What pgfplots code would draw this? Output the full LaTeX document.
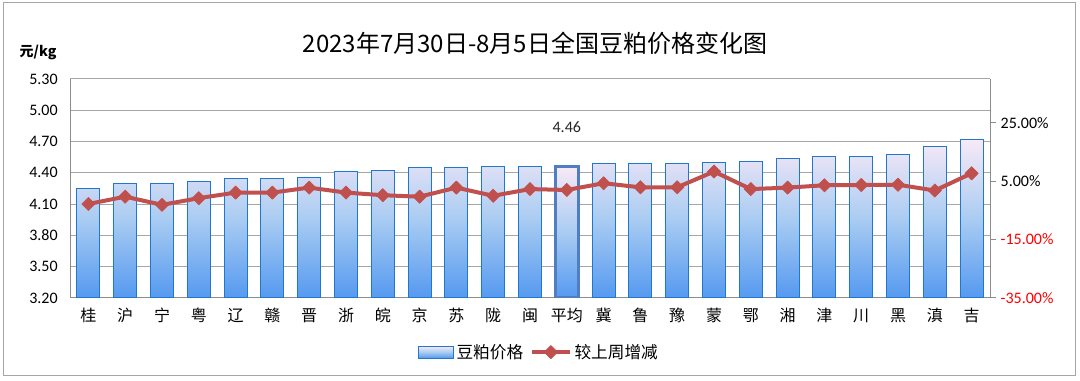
\documentclass[border=0pt]{standalone}
\usepackage{fontspec}
\setmainfont{Carlito}
\newfontfamily\cjk{Noto Sans CJK SC}
\usepackage{pgfplots}
\pgfplotsset{compat=1.18}
\definecolor{barborder}{HTML}{1F78CC}
\definecolor{bartop}{HTML}{F8E9F7}
\definecolor{barmid}{HTML}{A9CCF2}
\definecolor{barbot}{HTML}{5599F0}
\definecolor{linered}{HTML}{C0504D}
\definecolor{gridgray}{HTML}{A6A6A6}
\definecolor{axisgray}{HTML}{8C8C8C}
\definecolor{avgborder}{HTML}{4F7FC0}
\definecolor{negred}{HTML}{FF0000}
\pgfplotsset{linelegend/.style={legend image code/.code={\draw[mark repeat=2,mark phase=2,##1] plot coordinates {(0pt,0pt) (14.25pt,0pt) (28.5pt,0pt)};}}}
\pgfplotsset{barlegend/.style={legend image code/.code={\draw[draw=barborder, line width=0.75pt, top color=bartop, bottom color=barbot, middle color=barmid] (0pt,-4.5pt) rectangle (26.25pt,4.5pt);}}}
\begin{document}
\begin{tikzpicture}
\path[use as bounding box] (0pt,0pt) rectangle (810pt,285.75pt);
\draw[draw=gray!70, line width=0.75pt] (2.25pt,3.75pt) rectangle (806.25pt,283.5pt);
\node[font=\cjk\fontsize{18}{20}\selectfont] at (401.25pt,253.5pt) {2023年7月30日-8月5日全国豆粕价格变化图};
\node[font=\cjk\bfseries\fontsize{10.5}{12}\selectfont] at (28.5pt,246.75pt) {元/kg};
\begin{axis}[
  at={(52.5pt,62.25pt)}, anchor=south west,
  scale only axis, width=690pt, height=164.25pt,
  xmin=-0.5, xmax=24.5, ymin=3.2, ymax=5.3,
  y coord trafo/.code={\pgfmathparse{#1-3.2}},
  y coord inv trafo/.code={\pgfmathparse{#1+3.2}},
  ytick={3.2,3.5,3.8,4.1,4.4,4.7,5.0,5.3},
  yticklabels={3.20,3.50,3.80,4.10,4.40,4.70,5.00,5.30},
  xtick={0,...,24},
  xticklabels={桂,沪,宁,粤,辽,赣,晋,浙,皖,京,苏,陇,闽,平均,冀,鲁,豫,蒙,鄂,湘,津,川,黑,滇,吉},
  xticklabel style={font=\cjk\fontsize{12}{14}\selectfont},
  yticklabel style={font=\fontsize{12}{14}\selectfont, xshift=-5.75pt},
  axis x line*=bottom, axis y line*=left,
  axis line style={-, draw=axisgray, line width=0.75pt},
  ymajorgrids, grid style={draw=gridgray, line width=0.75pt},
  tick style={draw=none},
  ybar, bar width=17.25pt, bar shift=0pt,
]
\addplot[draw=barborder, line width=0.75pt, top color=bartop, bottom color=barbot, middle color=barmid] coordinates {
(0,4.25) (1,4.30) (2,4.30) (3,4.32) (4,4.35) (5,4.35) (6,4.36) (7,4.41) (8,4.42)
(9,4.45) (10,4.45) (11,4.46) (12,4.46) (13,4.46) (14,4.49) (15,4.49) (16,4.49)
(17,4.50) (18,4.51) (19,4.54) (20,4.56) (21,4.56) (22,4.58) (23,4.65) (24,4.72)};
\addplot[draw=avgborder, line width=2.25pt, top color=bartop, bottom color=barbot, middle color=barmid] coordinates {(13,4.46)};
\addplot[draw=none, fill=none, point meta=explicit symbolic, nodes near coords,
  every node near coord/.append style={font=\fontsize{12}{14}\selectfont, anchor=south, inner sep=0pt, yshift=25.5pt, text=black!85}]
  coordinates {(13,4.46) [4.46]};
\end{axis}
\begin{axis}[
  at={(52.5pt,62.25pt)}, anchor=south west,
  scale only axis, width=690pt, height=164.25pt,
  xmin=-0.5, xmax=24.5, ymin=-35, ymax=40,
  axis y line*=right, axis x line=none,
  axis line style={-, draw=axisgray, line width=0.75pt},
  ytick={-35,-15,5,25},
  yticklabels={{\textcolor{negred}{-35.00\%}},{\textcolor{negred}{-15.00\%}},{5.00\%},{25.00\%}},
  yticklabel style={font=\fontsize{12}{14}\selectfont},
  tick align=outside, major tick length=4.5pt,
  ytick style={draw=axisgray, line width=0.75pt},
  legend style={at={(0.51,-0.247)}, anchor=center, draw=none, fill=none,
    legend columns=2, font=\cjk\fontsize{12.5}{14}\selectfont,
    /tikz/every even column/.append style={column sep=3pt}},
]
\addlegendimage{barlegend}
\addlegendentry{豆粕价格}
\addplot[color=linered, line width=3pt, line join=round, mark=square*,
  mark size=3.5pt, mark options={rotate=45, solid, line width=0.5pt, fill=linered},
  linelegend]
coordinates {
(0,-2.8) (1,-0.3) (2,-3.1) (3,-0.8) (4,1.1) (5,1.1) (6,2.8) (7,1.1) (8,0.2)
(9,-0.3) (10,2.8) (11,0.0) (12,2.3) (13,2.0) (14,4.3) (15,2.9) (16,2.9)
(17,8.3) (18,2.3) (19,2.8) (20,3.6) (21,3.7) (22,3.8) (23,1.8) (24,7.7)};
\addlegendentry{较上周增减}
\end{axis}
\end{tikzpicture}
\end{document}
